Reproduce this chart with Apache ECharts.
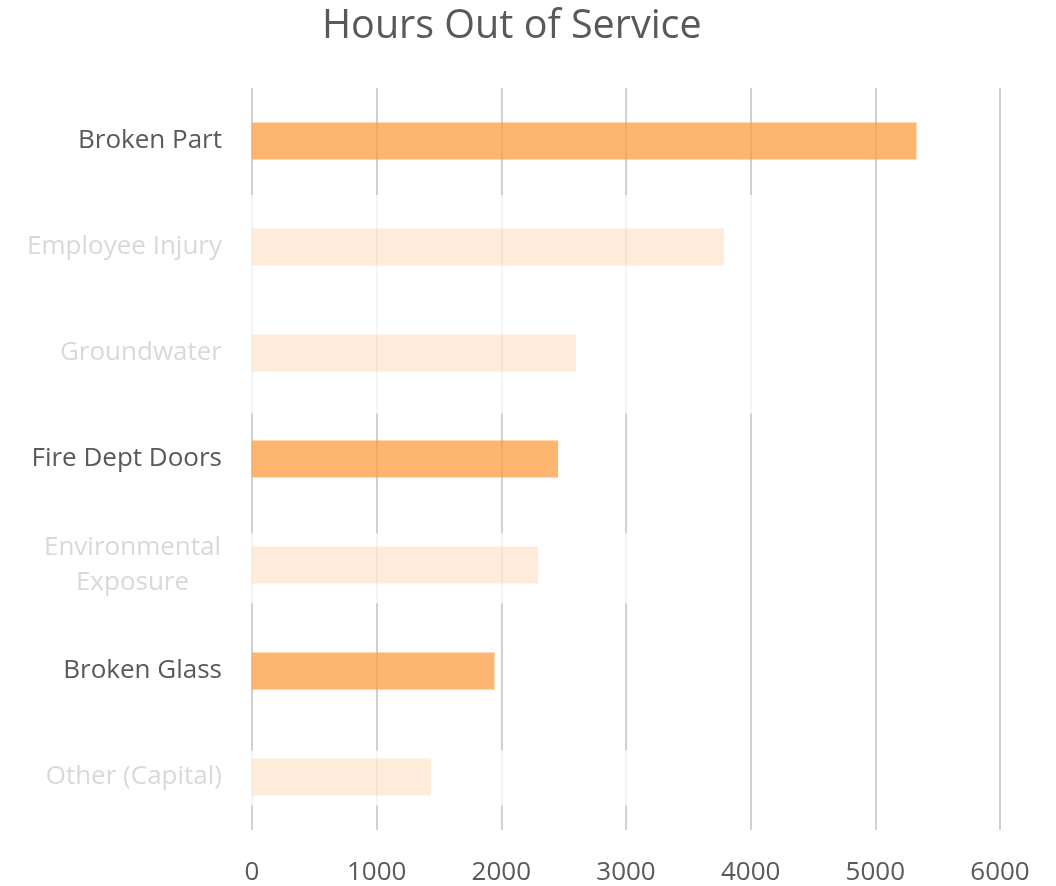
<!DOCTYPE html>
<html>
<head>
<meta charset="utf-8">
<script src="https://cdn.jsdelivr.net/npm/echarts@6/dist/echarts.min.js"></script>
<style>
  html, body { margin: 0; padding: 0; background: #ffffff; }
  #chart { width: 1056px; height: 886px; }
</style>
</head>
<body>
<div id="chart"></div>
<script>
// ---- data ----
const categories = ['Broken Part', 'Employee Injury', 'Groundwater', 'Fire Dept Doors', 'Environmental Exposure', 'Broken Glass', 'Other (Capital)'];
const hours = [5330, 3785, 2600, 2455, 2295, 1945, 1435];
const highlighted = [true, false, false, true, false, true, false];
const xTicks = [0, 1000, 2000, 3000, 4000, 5000, 6000];

// ---- styles ----
const FONT = '"Open Sans", "Noto Sans", sans-serif';
const DARK_TEXT = '#595959';
const FADED_TEXT = '#d9d9d9';
const BAR_STRONG = 'rgba(252,156,63,0.75)';
const BAR_FADED = 'rgba(252,156,63,0.2)';
const LONG_LABEL = 16; // labels longer than this wrap onto two centred lines

// white veils that soften the gridlines behind the faded rows
// [xStart, xEnd, rowStart, rowEnd] in axis units (rows: 0..7 from top)
const veils = [
  [-60, 4400, 1.01, 3.07],
  [-60, 3400, 4.20, 4.86],
  [-60, 3400, 6.25, 6.77]
];

const chart = echarts.init(document.getElementById('chart'));

chart.setOption({
  backgroundColor: '#ffffff',
  animation: false,
  textStyle: { fontFamily: FONT },
  title: {
    text: 'Hours Out of Service',
    left: 317,
    top: 2,
    textStyle: { fontFamily: FONT, fontSize: 39.5, fontWeight: 'normal', color: DARK_TEXT }
  },
  grid: { left: 252, right: 56, top: 88, bottom: 54, containLabel: false },
  xAxis: {
    type: 'value',
    min: xTicks[0],
    max: xTicks[xTicks.length - 1],
    interval: xTicks[1] - xTicks[0],
    axisLine: { show: false },
    axisTick: { show: false },
    axisLabel: {
      color: DARK_TEXT, fontSize: 26, fontFamily: FONT, margin: 30,
      formatter: function (v) { return String(v); }
    },
    splitLine: { show: true, lineStyle: { color: '#d0d0d0', width: 2 } }
  },
  yAxis: [
    {
      type: 'category',
      inverse: true,
      data: categories.map((c, i) => {
        const ts = { color: highlighted[i] ? DARK_TEXT : FADED_TEXT };
        if (c.length > LONG_LABEL) {
          ts.align = 'center';
          ts.padding = [0, 179, 0, 0];
        }
        return { value: c, textStyle: ts };
      }),
      axisLine: { show: false },
      axisTick: { show: false },
      splitLine: { show: false },
      axisLabel: {
        fontSize: 26,
        fontFamily: FONT,
        margin: 30,
        lineHeight: 35,
        align: 'right',
        formatter: function (v) {
          return v.length > LONG_LABEL ? v.replace(' ', '\n') : v;
        }
      }
    },
    {
      type: 'value',
      inverse: true,
      min: 0,
      max: categories.length,
      show: false
    }
  ],
  series: [
    {
      type: 'custom',
      xAxisIndex: 0,
      yAxisIndex: 1,
      z: 1,
      silent: true,
      clip: false,
      data: veils,
      renderItem: function (params, api) {
        const p0 = api.coord([api.value(0), api.value(2)]);
        const p1 = api.coord([api.value(1), api.value(3)]);
        return {
          type: 'rect',
          shape: { x: p0[0], y: p0[1], width: p1[0] - p0[0], height: p1[1] - p0[1] },
          style: { fill: 'rgba(255,255,255,0.78)' }
        };
      }
    },
    {
      type: 'bar',
      xAxisIndex: 0,
      yAxisIndex: 0,
      z: 2,
      barWidth: '35%',
      data: hours.map((v, i) => ({
        value: v,
        itemStyle: { color: highlighted[i] ? BAR_STRONG : BAR_FADED }
      }))
    }
  ]
});
</script>
</body>
</html>
